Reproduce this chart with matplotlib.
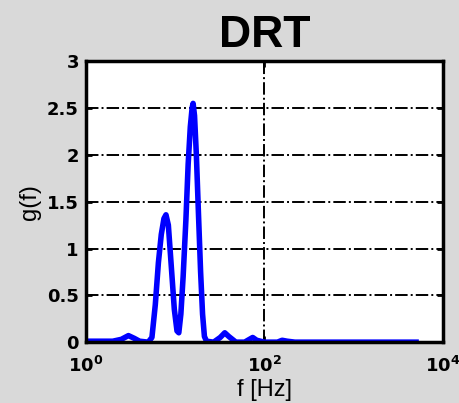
import matplotlib
matplotlib.use("Agg")
import matplotlib.pyplot as plt
from matplotlib.ticker import FixedLocator, FixedFormatter, NullLocator

# distribucion de tiempos de relajacion
f_hz = [1.0, 2.0, 2.5, 3.0, 3.5, 4.0, 5.0, 5.5, 6.0, 6.5, 7.0, 7.5, 7.9, 8.4, 9.0,
        9.8, 10.5, 11.0, 11.6, 12.3, 13.2, 14.0, 14.8, 15.5, 15.9, 16.5, 17.3,
        18.3, 19.3, 20.3, 21.3, 22.5, 27.0, 32.0, 36.0, 40.0, 48.0, 60.0, 68.0,
        74.0, 82.0, 100.0, 140.0, 158.0, 180.0, 220.0, 5000.0]
g_f = [0.01, 0.01, 0.03, 0.07, 0.04, 0.01, 0.0, 0.05, 0.4, 0.85, 1.15, 1.32,
       1.36, 1.25, 0.85, 0.35, 0.12, 0.1, 0.3, 0.7, 1.3, 1.9, 2.3, 2.5, 2.55,
       2.42, 2.0, 1.35, 0.75, 0.3, 0.06, 0.01, 0.0, 0.05, 0.1, 0.06, 0.0, 0.0,
       0.03, 0.05, 0.02, 0.0, 0.0, 0.02, 0.01, 0.0, 0.0]

x_ticks = [1, 100, 10000]
x_labels = [r"$\mathbf{10^{0}}$", r"$\mathbf{10^{2}}$", r"$\mathbf{10^{4}}$"]
y_ticks = [0, 0.5, 1, 1.5, 2, 2.5, 3]
y_labels = ["0", "0.5", "1", "1.5", "2", "2.5", "3"]

plt.rcParams["mathtext.fontset"] = "dejavusans"

fig = plt.figure(figsize=(4.59, 4.03), dpi=100)
fig.patch.set_facecolor("#d9d9d9")
ax = fig.add_axes([0.187, 0.151, 0.778, 0.697])
ax.set_facecolor("white")

ax.plot(f_hz, g_f, color="#0000ff", linewidth=4, solid_joinstyle="round")

ax.set_xscale("log")
ax.set_xlim(1, 10000)
ax.set_ylim(0, 3)
ax.xaxis.set_major_locator(FixedLocator(x_ticks))
ax.xaxis.set_major_formatter(FixedFormatter(x_labels))
ax.xaxis.set_minor_locator(NullLocator())
ax.yaxis.set_major_locator(FixedLocator(y_ticks))
ax.yaxis.set_major_formatter(FixedFormatter(y_labels))

ax.grid(True, color="black", linestyle="-.", linewidth=1.4)
ax.tick_params(direction="in", length=4, width=2, top=True, right=True,
               labelsize=13, colors="black")
ax.tick_params(axis="x", pad=10)
ax.tick_params(axis="y", pad=5)
for lab in ax.get_yticklabels():
    lab.set_fontweight("bold")
for s in ax.spines.values():
    s.set_linewidth(2.5)

ax.set_xlabel("f [Hz]", fontsize=17, family="Liberation Sans", labelpad=2)
ax.set_ylabel("g(f)", fontsize=17, family="Liberation Sans", labelpad=4)
ax.set_title("DRT", fontsize=32, fontweight="bold", family="Liberation Sans", pad=10)

fig.savefig("out.png", dpi=100, facecolor=fig.get_facecolor())
